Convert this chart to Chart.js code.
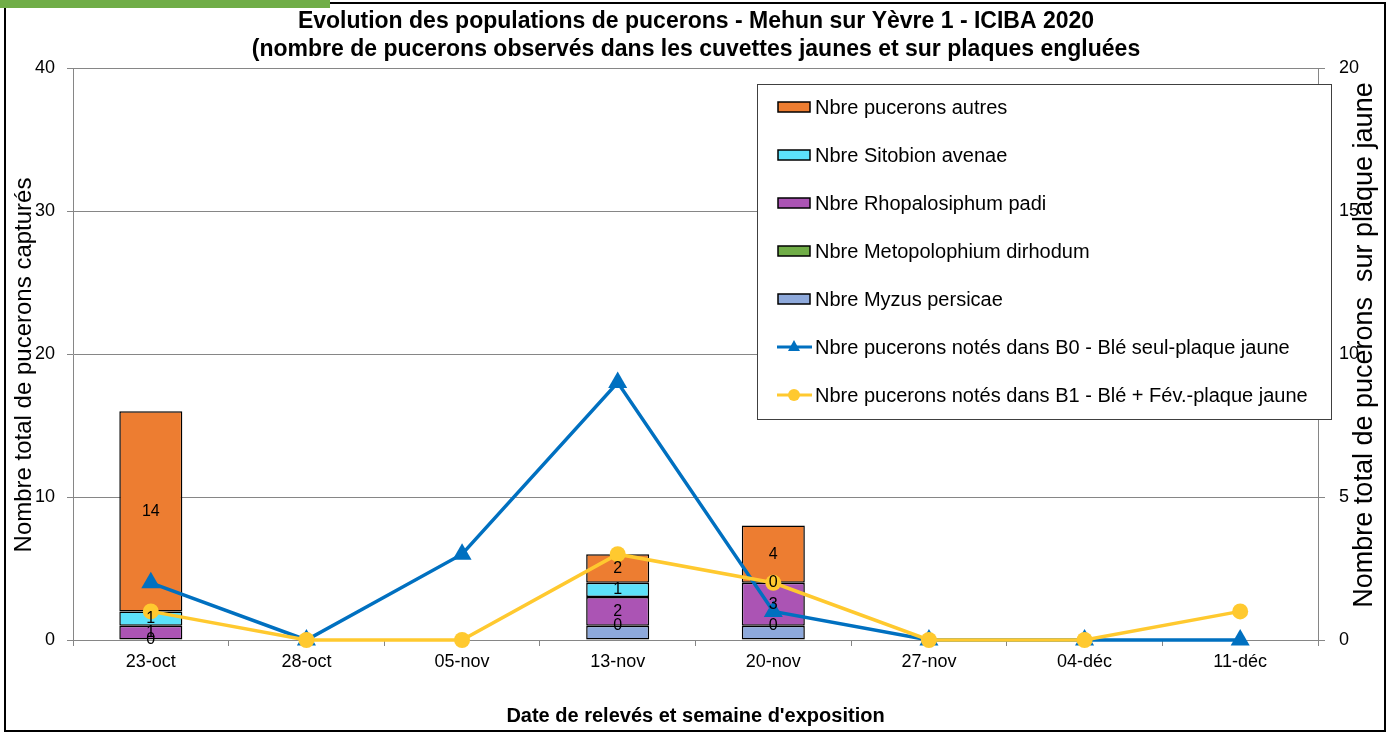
<!DOCTYPE html>
<html>
<head>
<meta charset="utf-8">
<script src="https://cdn.jsdelivr.net/npm/chart.js@4.4.1/dist/chart.umd.min.js"></script>
<style>
  body { margin: 0; background: #fff; }
  #wrap { position: relative; width: 1392px; height: 733px; }
  #frame { position: absolute; left: 4px; top: 2px; width: 1382px; height: 730px; border: 2px solid #000; box-sizing: border-box; }
  #green { position: absolute; left: 0; top: 0; width: 330px; height: 8px; background: #70AD47; }
  canvas { position: absolute; left: 0; top: 0; }
</style>
</head>
<body>
<div id="wrap">
  <div id="frame"></div>
  <canvas id="myChart" width="1392" height="733"></canvas>
  <div id="green"></div>
</div>
<script>
// dates de relevé
var dates = ['23-oct', '28-oct', '05-nov', '13-nov', '20-nov', '27-nov', '04-déc', '11-déc'];

// cuvettes jaunes (axe gauche, empilé)
var myzus = [0, null, null, 1, 1, null, null, null];
var metopolophium = [0, null, null, 0, 0, null, null, null];
var rhopalosiphum = [1, null, null, 2, 3, null, null, null];
var sitobion = [1, null, null, 1, 0, null, null, null];
var autres = [14, null, null, 2, 4, null, null, null];

// plaques engluées (axe droit)
var plaqueB0 = [2, 0, 3, 9, 1, 0, 0, 0];
var plaqueB1 = [1, 0, 0, 3, 2, 0, 0, 1];

var leftTicks = { min: 0, max: 40, step: 10 };
var rightTicks = { min: 0, max: 20, step: 5 };

var FONT = "'Liberation Sans', Arial, sans-serif";
Chart.defaults.font.family = FONT;
Chart.defaults.color = '#000';

function barSet(label, data, color, showLabels) {
  return {
    type: 'bar',
    label: label,
    data: data,
    backgroundColor: color,
    borderColor: '#000',
    borderWidth: 1.5,
    borderSkipped: false,
    barPercentage: 0.405,
    categoryPercentage: 1,
    yAxisID: 'y',
    order: 2,
    showLabels: showLabels
  };
}

// étiquettes dans les barres, légende et titres d'axes
var extras = {
  id: 'extras',
  afterDatasetsDraw: function(chart) {
    var ctx = chart.ctx;
    ctx.save();
    ctx.font = '16px ' + FONT;
    ctx.fillStyle = '#000';
    ctx.textAlign = 'center';
    ctx.textBaseline = 'middle';
    chart.data.datasets.forEach(function(ds, i) {
      if (!ds.showLabels) return;
      var meta = chart.getDatasetMeta(i);
      ds.data.forEach(function(v, j) {
        if (v === null) return;
        var el = meta.data[j];
        ctx.fillText(String(v), el.x, (el.y + el.base) / 2);
      });
    });
    ctx.restore();
  },
  afterDraw: function(chart) {
    var ctx = chart.ctx;
    ctx.save();
    // titres des axes verticaux
    ctx.fillStyle = '#000';
    ctx.textAlign = 'center';
    ctx.textBaseline = 'middle';
    ctx.save();
    ctx.translate(24, 365);
    ctx.rotate(-Math.PI / 2);
    ctx.font = '24px ' + FONT;
    ctx.fillText('Nombre total de pucerons capturés', 0, 0);
    ctx.restore();
    ctx.save();
    ctx.translate(1365, 345);
    ctx.rotate(-Math.PI / 2);
    ctx.font = '27px ' + FONT;
    ctx.fillText('Nombre total de pucerons  sur plaque jaune', 0, 0);
    ctx.restore();

    // légende
    var lx = 757, ly = 84, lw = 574, lh = 335;
    ctx.fillStyle = '#fff';
    ctx.fillRect(lx, ly, lw, lh);
    ctx.strokeStyle = '#404040';
    ctx.lineWidth = 1;
    ctx.strokeRect(lx + 0.5, ly + 0.5, lw, lh);
    var order = [4, 3, 2, 1, 0, 5, 6];
    order.forEach(function(idx, k) {
      var ds = chart.data.datasets[idx];
      var y = 107 + 48 * k;
      if (ds.type === 'bar') {
        ctx.fillStyle = ds.backgroundColor;
        ctx.fillRect(778, y - 5, 32, 10);
        ctx.strokeStyle = '#000';
        ctx.lineWidth = 1.5;
        ctx.strokeRect(778, y - 5, 32, 10);
      } else {
        ctx.strokeStyle = ds.borderColor;
        ctx.lineWidth = 3;
        ctx.beginPath();
        ctx.moveTo(777, y);
        ctx.lineTo(812, y);
        ctx.stroke();
        ctx.fillStyle = ds.borderColor;
        ctx.beginPath();
        if (ds.pointStyle === 'triangle') {
          ctx.moveTo(794, y - 7);
          ctx.lineTo(800, y + 4);
          ctx.lineTo(788, y + 4);
          ctx.closePath();
        } else {
          ctx.arc(794, y, 6, 0, Math.PI * 2);
        }
        ctx.fill();
      }
      ctx.fillStyle = '#000';
      ctx.textAlign = 'left';
      ctx.font = '20px ' + FONT;
      ctx.fillText(ds.label, 815, y + 1);
    });
    ctx.restore();
  }
};

var ctx = document.getElementById('myChart').getContext('2d');
var mixedChart = new Chart(ctx, {
  type: 'bar',
  data: {
    labels: dates,
    datasets: [
      barSet('Nbre Myzus persicae', myzus, '#8EA9DB', false),
      barSet('Nbre Metopolophium dirhodum', metopolophium, '#70AD47', true),
      barSet('Nbre Rhopalosiphum padi', rhopalosiphum, '#AB54B4', true),
      barSet('Nbre Sitobion avenae', sitobion, '#5CE1FB', true),
      barSet('Nbre pucerons autres', autres, '#ED7D31', true),
      {
        type: 'line',
        label: 'Nbre pucerons notés dans B0 - Blé seul-plaque jaune',
        data: plaqueB0,
        borderColor: '#0070C0',
        backgroundColor: '#0070C0',
        borderWidth: 3.5,
        pointStyle: 'triangle',
        pointRadius: 11,
        pointBorderWidth: 0,
        tension: 0,
        fill: false,
        clip: false,
        yAxisID: 'y2',
        order: 1
      },
      {
        type: 'line',
        label: 'Nbre pucerons notés dans B1 - Blé + Fév.-plaque jaune',
        data: plaqueB1,
        borderColor: '#FFC92F',
        backgroundColor: '#FFC92F',
        borderWidth: 3.5,
        pointStyle: 'circle',
        pointRadius: 8,
        pointBorderWidth: 0,
        tension: 0,
        fill: false,
        clip: false,
        yAxisID: 'y2',
        order: 0
      }
    ]
  },
  options: {
    responsive: false,
    animation: false,
    layout: { padding: 0 },
    plugins: {
      legend: { display: false },
      tooltip: { enabled: false },
      title: {
        display: true,
        text: ['Evolution des populations de pucerons - Mehun sur Yèvre 1 - ICIBA 2020',
               '(nombre de pucerons observés dans les cuvettes jaunes et sur plaques engluées'],
        font: { size: 23, weight: 'bold', lineHeight: '28px' },
        color: '#000',
        padding: { top: 8, bottom: 4 }
      }
    },
    scales: {
      x: {
        stacked: true,
        grid: { offset: true, drawOnChartArea: false, tickLength: 6, color: '#868686' },
        border: { color: '#868686' },
        ticks: { font: { size: 18 }, color: '#000', padding: 5, maxRotation: 0 },
        title: {
          display: true,
          text: "Date de relevés et semaine d'exposition",
          font: { size: 20, weight: 'bold' },
          color: '#000',
          padding: { top: 0, bottom: 5 }
        },
        afterFit: function(s) { s.height = 93; }
      },
      y: {
        position: 'left',
        stacked: true,
        min: leftTicks.min,
        max: leftTicks.max,
        ticks: { stepSize: leftTicks.step, font: { size: 18 }, color: '#000', padding: 12 },
        grid: { color: '#868686', tickLength: 6 },
        border: { color: '#868686' },
        afterFit: function(s) { s.width = 73; }
      },
      y2: {
        position: 'right',
        min: rightTicks.min,
        max: rightTicks.max,
        ticks: { stepSize: rightTicks.step, font: { size: 18 }, color: '#000', padding: 14 },
        grid: { drawOnChartArea: false, color: '#868686', tickLength: 7 },
        border: { color: '#868686' },
        afterFit: function(s) { s.width = 74; }
      }
    }
  },
  plugins: [extras]
});
</script>
</body>
</html>
